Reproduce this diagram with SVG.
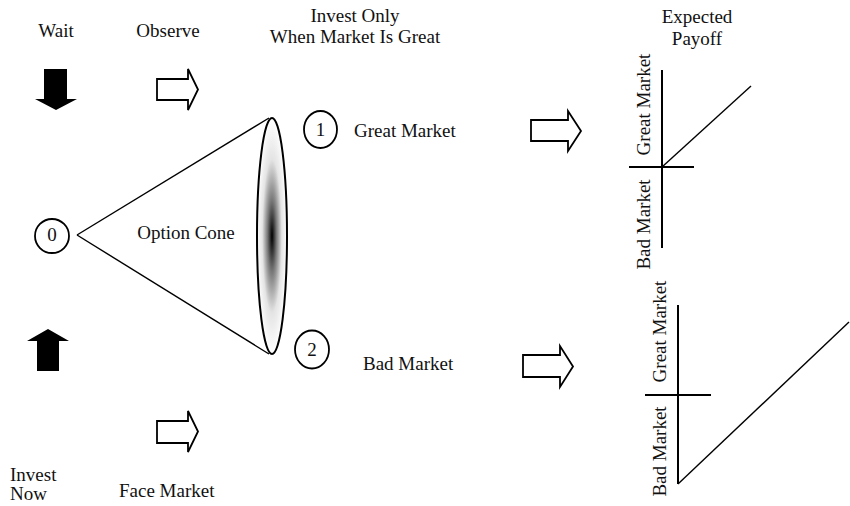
<svg xmlns="http://www.w3.org/2000/svg" width="850" height="506" viewBox="0 0 850 506">
<style>
text{font-family:"Liberation Serif","Times New Roman",serif;font-size:19px;fill:#111}
.c{text-anchor:middle}
.node{fill:#fff;stroke:#000;stroke-width:1.8}
.hollow{fill:#fff;stroke:#000;stroke-width:1.8;stroke-linejoin:miter}
.solid{fill:#000;stroke:none}
.ln{stroke:#000;stroke-width:1.4;fill:none}
.ax{stroke:#000;stroke-width:2;fill:none}
</style>
<defs>
<radialGradient id="g" cx="0.5" cy="0.5" r="0.5">
<stop offset="0" stop-color="#000"/>
<stop offset="0.3" stop-color="#777"/>
<stop offset="0.65" stop-color="#e4e4e4"/>
<stop offset="1" stop-color="#fff"/>
</radialGradient>
</defs>
<g id="labels">
<text class="c" x="56" y="37">Wait</text>
<text class="c" x="168" y="37">Observe</text>
<text class="c" x="355" y="22">Invest Only</text>
<text class="c" x="355" y="43">When Market Is Great</text>
<text class="c" x="697" y="23">Expected</text>
<text class="c" x="697" y="45">Payoff</text>
<text x="10" y="481">Invest</text>
<text x="10" y="500">Now</text>
<text x="119" y="497">Face Market</text>
</g>
<g id="connectors">
<line class="ln" x1="77" y1="235" x2="269" y2="118"/>
<line class="ln" x1="77" y1="235" x2="269" y2="354"/>
<path id="arrow-wait" class="solid" d="M44,69 H67 V99 H77 L56,110 L35,99 H44 Z"/>
<path id="arrow-invest" class="solid" d="M37,371 H59 V341 H69 L48,329 L27,341 H37 Z"/>
<path id="arrow-observe" class="hollow" d="M157,79 H188 V69 L198,89.5 L188,110 V100 H157 Z"/>
<path id="arrow-face" class="hollow" d="M157,421 H188 V411 L198,431.5 L188,452 V443 H157 Z"/>
<path id="arrow-great" class="hollow" d="M531,120 H568 V111 L581,131 L568,151 V141 H531 Z"/>
<path id="arrow-bad" class="hollow" d="M523,355 H560 V346 L573,366.5 L560,387 V377 H523 Z"/>
</g>
<g id="node-0">
<circle class="node" cx="52" cy="236" r="17"/>
<text class="c" x="52" y="241">0</text>
</g>
<g id="option-cone">
<ellipse cx="272" cy="236" rx="15" ry="118" fill="url(#g)" stroke="#000" stroke-width="2"/>
<text class="c" x="186" y="239">Option Cone</text>
</g>
<g id="node-1">
<ellipse class="node" cx="320.5" cy="129.5" rx="16.5" ry="18.5"/>
<text class="c" x="320.5" y="136">1</text>
<text x="354" y="137">Great Market</text>
</g>
<g id="node-2">
<ellipse class="node" cx="312" cy="349.5" rx="17" ry="19"/>
<text class="c" x="312" y="356">2</text>
<text x="363" y="370">Bad Market</text>
</g>
<g id="payoff-great">
<line class="ax" x1="662" y1="70" x2="662" y2="248"/>
<line class="ax" x1="629" y1="167" x2="694" y2="167"/>
<line class="ln" x1="662" y1="167" x2="751" y2="86"/>
<text class="c" transform="translate(650,104.5) rotate(-90)">Great Market</text>
<text class="c" transform="translate(650,224.5) rotate(-90)">Bad Market</text>
</g>
<g id="payoff-bad">
<line class="ax" x1="678" y1="305" x2="678" y2="484"/>
<line class="ax" x1="645" y1="395" x2="711" y2="395"/>
<line class="ln" x1="678" y1="484" x2="849" y2="322"/>
<text class="c" transform="translate(666,331.5) rotate(-90)">Great Market</text>
<text class="c" transform="translate(666,451.5) rotate(-90)">Bad Market</text>
</g>
</svg>
